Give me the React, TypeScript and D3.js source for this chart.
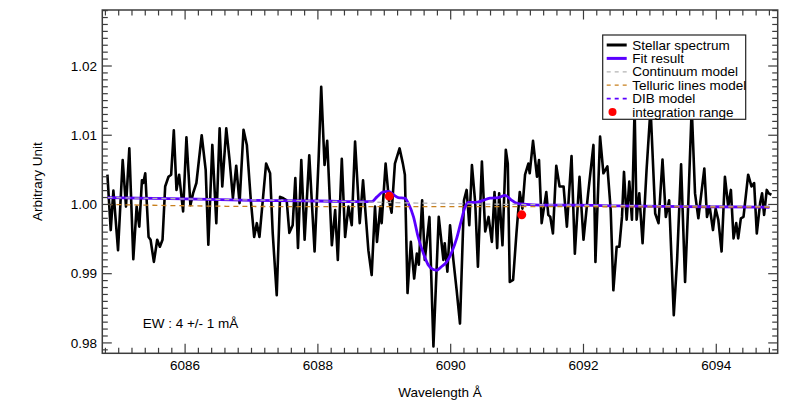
import React from "react";
import * as d3 from "d3";

const specWave = [6084.83,6084.88,6084.92,6084.99,6085.06,6085.11,6085.16,6085.22,6085.27,6085.31,6085.35,6085.37,6085.40,6085.45,6085.48,6085.53,6085.58,6085.62,6085.66,6085.70,6085.75,6085.79,6085.83,6085.87,6085.91,6085.97,6086.02,6086.08,6086.12,6086.17,6086.25,6086.31,6086.35,6086.41,6086.47,6086.52,6086.56,6086.62,6086.67,6086.72,6086.77,6086.82,6086.88,6086.93,6086.99,6087.04,6087.08,6087.12,6087.22,6087.28,6087.32,6087.38,6087.43,6087.48,6087.53,6087.57,6087.62,6087.66,6087.70,6087.75,6087.80,6087.87,6087.95,6088.01,6088.05,6088.10,6088.14,6088.21,6088.26,6088.30,6088.36,6088.41,6088.46,6088.51,6088.56,6088.63,6088.68,6088.76,6088.81,6088.86,6088.89,6088.94,6088.96,6089.02,6089.07,6089.11,6089.16,6089.23,6089.28,6089.31,6089.35,6089.40,6089.45,6089.49,6089.52,6089.57,6089.61,6089.68,6089.74,6089.82,6089.89,6089.91,6089.95,6089.99,6090.04,6090.09,6090.14,6090.20,6090.24,6090.28,6090.32,6090.37,6090.41,6090.47,6090.52,6090.57,6090.62,6090.66,6090.70,6090.73,6090.78,6090.83,6090.86,6090.89,6090.94,6090.99,6091.04,6091.08,6091.12,6091.17,6091.19,6091.24,6091.30,6091.33,6091.37,6091.44,6091.47,6091.50,6091.54,6091.59,6091.64,6091.70,6091.75,6091.82,6091.87,6091.94,6092.00,6092.07,6092.15,6092.18,6092.25,6092.30,6092.36,6092.41,6092.45,6092.50,6092.54,6092.58,6092.61,6092.65,6092.69,6092.73,6092.77,6092.80,6092.84,6092.89,6092.95,6093.01,6093.08,6093.13,6093.19,6093.24,6093.29,6093.36,6093.41,6093.47,6093.53,6093.58,6093.63,6093.68,6093.73,6093.82,6093.86,6093.90,6093.95,6093.99,6094.03,6094.08,6094.13,6094.18,6094.22,6094.26,6094.30,6094.33,6094.37,6094.41,6094.48,6094.53,6094.57,6094.61,6094.66,6094.69,6094.72,6094.76,6094.79,6094.83];
const specFlux = [1.0043,0.9963,1.0020,0.9934,1.0064,0.9997,1.0081,0.9921,0.9997,0.9968,1.0035,1.0031,1.0045,0.9953,0.9949,0.9917,0.9949,0.9939,0.9949,1.0026,1.0040,1.0043,1.0107,1.0021,1.0043,0.9990,1.0097,0.9999,1.0016,1.0031,1.0100,1.0050,0.9942,1.0086,0.9973,1.0110,1.0026,1.0110,1.0064,1.0009,1.0056,1.0002,1.0108,1.0086,1.0006,0.9953,0.9973,0.9953,1.0059,1.0045,0.9958,0.9869,1.0011,1.0009,1.0006,0.9959,0.9970,1.0038,0.9937,1.0064,0.9949,1.0071,0.9932,1.0064,1.0170,1.0057,1.0092,0.9941,0.9992,0.9920,1.0066,0.9953,0.9997,0.9970,1.0091,0.9973,1.0035,0.9934,0.9898,0.9997,0.9946,0.9997,0.9973,1.0059,1.0006,0.9988,1.0059,1.0081,1.0059,1.0043,0.9872,0.9946,0.9893,0.9929,0.9913,1.0006,0.9920,0.9982,0.9795,0.9982,0.9920,0.9944,0.9903,0.9970,0.9920,0.9876,0.9828,1.0006,1.0021,0.9970,1.0057,1.0002,0.9910,1.0062,0.9961,0.9982,0.9946,1.0018,0.9937,1.0016,0.9941,1.0079,1.0059,0.9888,0.9891,0.9958,1.0018,0.9994,1.0043,1.0059,1.0045,1.0092,1.0040,1.0064,0.9973,1.0018,0.9985,0.9982,0.9958,1.0056,1.0026,1.0026,0.9968,1.0070,0.9929,1.0040,0.9949,1.0016,1.0086,0.9917,1.0098,1.0045,1.0055,0.9992,0.9876,0.9939,0.9939,0.9982,1.0047,0.9978,1.0033,0.9978,1.0140,0.9978,1.0016,0.9944,1.0050,1.0140,0.9987,0.9973,1.0065,0.9982,1.0006,0.9840,0.9920,1.0058,0.9888,1.0006,1.0140,1.0016,0.9980,1.0052,0.9982,0.9997,0.9963,0.9994,0.9978,0.9932,1.0040,0.9997,1.0021,0.9951,0.9973,0.9951,0.9980,0.9982,1.0043,1.0026,1.0031,0.9958,1.0002,1.0016,0.9985,1.0021,1.0016,1.0014];

const fitWave = [6084.83,6086.0,6087.0,6088.0,6088.81,6088.89,6088.98,6089.06,6089.14,6089.21,6089.31,6089.36,6089.44,6089.51,6089.59,6089.66,6089.74,6089.79,6089.86,6089.94,6090.02,6090.09,6090.15,6090.22,6090.27,6090.39,6090.49,6090.59,6090.72,6090.82,6090.92,6090.99,6091.14,6091.34,6091.85,6092.55,6093.5,6094.8];
const fitFlux = [1.0010,1.0008,1.0006,1.0005,1.0004,1.0011,1.0018,1.0019,1.0014,1.0010,1.0009,1.0002,0.9982,0.9953,0.9929,0.9913,0.9906,0.9905,0.9910,0.9917,0.9932,0.9951,0.9973,0.9997,1.0003,1.0003,1.0006,1.0009,1.0010,1.0013,1.0006,1.0002,1.0000,0.9999,0.9999,0.9998,0.9997,0.9996];

const contWave = [6084.83,6086.0,6088.0,6089.5,6091.0,6093.0,6094.8];
const contFlux = [1.0010,1.0008,1.0005,1.0002,1.0000,0.9998,0.9997];

const tellWave = [6084.83,6087.4,6090.0,6094.8];
const tellFlux = [1.0000,0.9997,0.9997,0.9996];

const dibWave = fitWave;
const dibFlux = fitFlux;

const intWave = [6089.075,6091.07];
const intFlux = [1.0012,0.9985];

const xMajorTicks = [6086,6088,6090,6092,6094];
const yMajorTicks = [0.98,0.99,1.00,1.01,1.02];
const legendLabels = ["Stellar spectrum","Fit result","Continuum model","Telluric lines model","DIB model","integration range"];

const W = 791, H = 407;
const L = 102.3, R = 777.7, T = 10, B = 353.3;
const FONT = "'Liberation Sans', Arial, Helvetica, sans-serif";
const FS = 13.5;
const PURPLE = "#5a00ff";
const ORANGE = "#c8801e";
const GRAY = "#b4b4b4";
const FRAME = "#3c3c3c";

export default function App() {
  const x = d3.scaleLinear().domain([6084.753, 6094.925]).range([L, R]);
  const y = d3.scaleLinear().domain([0.9785, 1.02809]).range([B, T]);

  const pts = (ws: number[], fs: number[]) => ws.map((w, i) => [w, fs[i]] as [number, number]);
  const lin = d3.line<[number, number]>().x(d => x(d[0])).y(d => y(d[1]));
  const smooth = d3.line<[number, number]>().x(d => x(d[0])).y(d => y(d[1])).curve(d3.curveMonotoneX);

  const xMinor: number[] = [];
  for (let v = 6084.8; v <= 6094.925; v += 0.2) {
    const r = Math.round(v * 10) / 10;
    if (Math.abs(r / 2 - Math.round(r / 2)) > 1e-6) xMinor.push(r);
  }
  const yMinor: number[] = [];
  for (let k = 979; k <= 1028; k++) {
    if (k % 10 !== 0) yMinor.push(k / 1000);
  }

  const majLen = 9.5, minLen = 5.5;
  const legX = 602.7, legY = 35, legW = 143, legH = 84.3;
  const rowY = (i: number) => 45 + i * 13.4;

  return (
    <svg width={W} height={H} style={{ position: "absolute", left: 0, top: 0, background: "#fff" }} fontFamily={FONT}>
      <defs>
        <clipPath id="plotclip">
          <rect x={L} y={T} width={R - L} height={B - T} />
        </clipPath>
      </defs>
      <rect x={0} y={0} width={W} height={H} fill="#fff" />
      <g clipPath="url(#plotclip)">
        <path d={lin(pts(specWave, specFlux)) || ""} fill="none" stroke="#000" strokeWidth={2.6} strokeLinejoin="round" />
        <path d={smooth(pts(dibWave, dibFlux)) || ""} fill="none" stroke={PURPLE} strokeWidth={1.3} strokeDasharray="5,4" />
        <path d={smooth(pts(fitWave, fitFlux)) || ""} fill="none" stroke={PURPLE} strokeWidth={2.8} />
        <path d={smooth(pts(contWave, contFlux)) || ""} fill="none" stroke={GRAY} strokeWidth={1.3} strokeDasharray="5,4" />
        <path d={smooth(pts(tellWave, tellFlux)) || ""} fill="none" stroke={ORANGE} strokeWidth={1.3} strokeDasharray="5,4" />
        {intWave.map((w, i) => (
          <circle key={i} cx={x(w)} cy={y(intFlux[i])} r={4.5} fill="#ff0000" />
        ))}
      </g>

      <rect x={L} y={T} width={R - L} height={B - T} fill="none" stroke={FRAME} strokeWidth={1.5} />

      {xMajorTicks.map(v => (
        <g key={"xM" + v}>
          <line x1={x(v)} x2={x(v)} y1={B} y2={B - majLen} stroke={FRAME} strokeWidth={1.2} />
          <line x1={x(v)} x2={x(v)} y1={T} y2={T + majLen} stroke={FRAME} strokeWidth={1.2} />
          <text x={x(v)} y={370} textAnchor="middle" fontSize={FS} fill="#000">{v}</text>
        </g>
      ))}
      {xMinor.map(v => (
        <g key={"xm" + v}>
          <line x1={x(v)} x2={x(v)} y1={B} y2={B - minLen} stroke={FRAME} strokeWidth={1.2} />
          <line x1={x(v)} x2={x(v)} y1={T} y2={T + minLen} stroke={FRAME} strokeWidth={1.2} />
        </g>
      ))}

      {yMajorTicks.map(v => (
        <g key={"yM" + v}>
          <line x1={L} x2={L + majLen} y1={y(v)} y2={y(v)} stroke={FRAME} strokeWidth={1.2} />
          <line x1={R} x2={R - majLen} y1={y(v)} y2={y(v)} stroke={FRAME} strokeWidth={1.2} />
          <text x={97} y={y(v) + 4.8} textAnchor="end" fontSize={FS} fill="#000">{v.toFixed(2)}</text>
        </g>
      ))}
      {yMinor.map(v => (
        <g key={"ym" + v}>
          <line x1={L} x2={L + minLen} y1={y(v)} y2={y(v)} stroke={FRAME} strokeWidth={1.2} />
          <line x1={R} x2={R - minLen} y1={y(v)} y2={y(v)} stroke={FRAME} strokeWidth={1.2} />
        </g>
      ))}

      <text x={(L + R) / 2} y={396.5} textAnchor="middle" fontSize={FS} fill="#000">Wavelength Å</text>
      <text transform={`translate(41.8,${(T + B) / 2}) rotate(-90)`} textAnchor="middle" fontSize={FS} fill="#000">Arbitrary Unit</text>

      <text x={142.7} y={328.3} fontSize={FS} fill="#000">EW : 4 +/- 1 mÅ</text>

      <rect x={legX} y={legY} width={legW} height={legH} fill="#fff" stroke="#222" strokeWidth={1.2} />
      <line x1={606.7} x2={626.7} y1={rowY(0)} y2={rowY(0)} stroke="#000" strokeWidth={3} />
      <line x1={606.7} x2={626.7} y1={rowY(1)} y2={rowY(1)} stroke={PURPLE} strokeWidth={3} />
      <line x1={606.7} x2={626.7} y1={rowY(2)} y2={rowY(2)} stroke={GRAY} strokeWidth={1.3} strokeDasharray="4,4" />
      <line x1={606.7} x2={626.7} y1={rowY(3)} y2={rowY(3)} stroke={ORANGE} strokeWidth={1.3} strokeDasharray="4,4" />
      <line x1={606.7} x2={626.7} y1={rowY(4)} y2={rowY(4)} stroke={PURPLE} strokeWidth={1.6} strokeDasharray="4,4" />
      <circle cx={612.5} cy={rowY(5)} r={4} fill="#ff0000" />
      {legendLabels.map((t, i) => (
        <text key={t} x={632.3} y={rowY(i) + 4.6} fontSize={FS} fill="#000">{t}</text>
      ))}
    </svg>
  );
}
